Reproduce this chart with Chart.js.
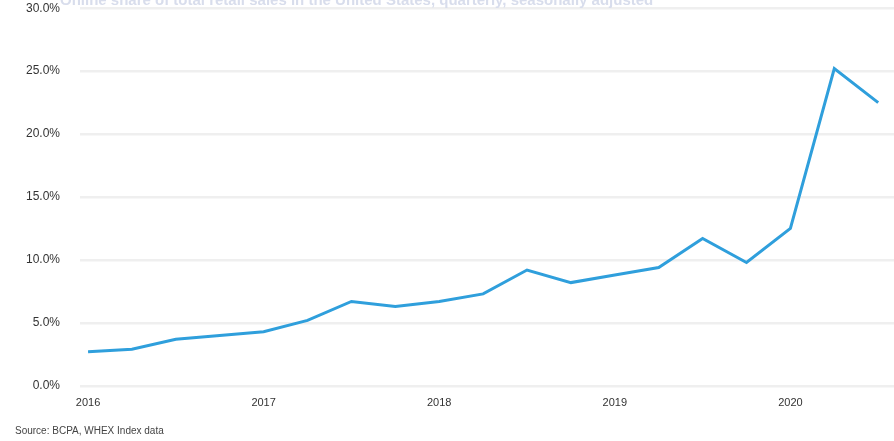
<!DOCTYPE html>
<html>
<head>
<meta charset="utf-8">
<script src="https://cdn.jsdelivr.net/npm/chart.js@4"></script>
<style>
  html, body { margin: 0; padding: 0; background: #fff; }
  #wrap { position: relative; width: 894px; height: 441px; overflow: hidden; }
  #shareChart { display: block; position: absolute; left: 0; top: -19px; }
  #topNote {
    position: absolute; left: 60px; top: -9px;
    font: bold 15px "Liberation Sans", Arial, sans-serif; color: #d8ddec;
    white-space: nowrap;
  }
  #source {
    position: absolute; left: 15px; top: 425px;
    font: 10px "Liberation Sans", Arial, sans-serif; color: #444;
  }
</style>
</head>
<body>
<div id="wrap">
  <canvas id="shareChart" width="894" height="460"></canvas>
  <div id="topNote">Online share of total retail sales in the United States, quarterly, seasonally adjusted</div>
  <div id="source">Source: BCPA, WHEX Index data</div>
</div>
<script>
const quarters = [
  '2016 Q1', '2016 Q2', '2016 Q3', '2016 Q4',
  '2017 Q1', '2017 Q2', '2017 Q3', '2017 Q4',
  '2018 Q1', '2018 Q2', '2018 Q3', '2018 Q4',
  '2019 Q1', '2019 Q2', '2019 Q3', '2019 Q4',
  '2020 Q1', '2020 Q2', '2020 Q3'
];
const sharePct = [
  2.7, 2.9, 3.7, 4.0,
  4.3, 5.2, 6.7, 6.3,
  6.7, 7.3, 9.2, 8.2,
  8.8, 9.4, 11.7, 9.8,
  12.5, 25.2, 22.5
];

// quarter index on a linear axis so the grid can run past the last point
const points = sharePct.map((v, i) => ({ x: i, y: v }));

const ctx = document.getElementById('shareChart').getContext('2d');
new Chart(ctx, {
  type: 'line',
  data: {
    datasets: [{
      data: points,
      borderColor: '#2f9fdc',
      borderWidth: 3,
      pointRadius: 0,
      tension: 0,
      fill: false
    }]
  },
  options: {
    responsive: false,
    animation: false,
    layout: { padding: { top: 2, right: 0, bottom: 28, left: 6 } },
    plugins: {
      legend: { display: false },
      tooltip: { enabled: false }
    },
    scales: {
      x: {
        type: 'linear',
        min: 0,
        max: 18.36,
        grid: { display: false },
        border: { display: false },
        afterBuildTicks: axis => {
          axis.ticks = quarters.map((q, i) => ({ value: i }));
        },
        ticks: {
          autoSkip: false,
          maxRotation: 0,
          color: '#333',
          font: { family: 'Liberation Sans', size: 11 },
          callback: function (val) {
            const lbl = quarters[val];
            return lbl && lbl.endsWith('Q1') ? lbl.slice(0, 4) : '';
          }
        }
      },
      y: {
        min: 0,
        max: 30,
        border: { display: false },
        grid: { color: '#efefef', lineWidth: 2.5, tickLength: 8 },
        ticks: {
          stepSize: 5,
          padding: 20,
          color: '#333',
          font: { family: 'Liberation Sans', size: 12 },
          callback: v => v.toFixed(1) + '%'
        }
      }
    }
  }
});
</script>
</body>
</html>
